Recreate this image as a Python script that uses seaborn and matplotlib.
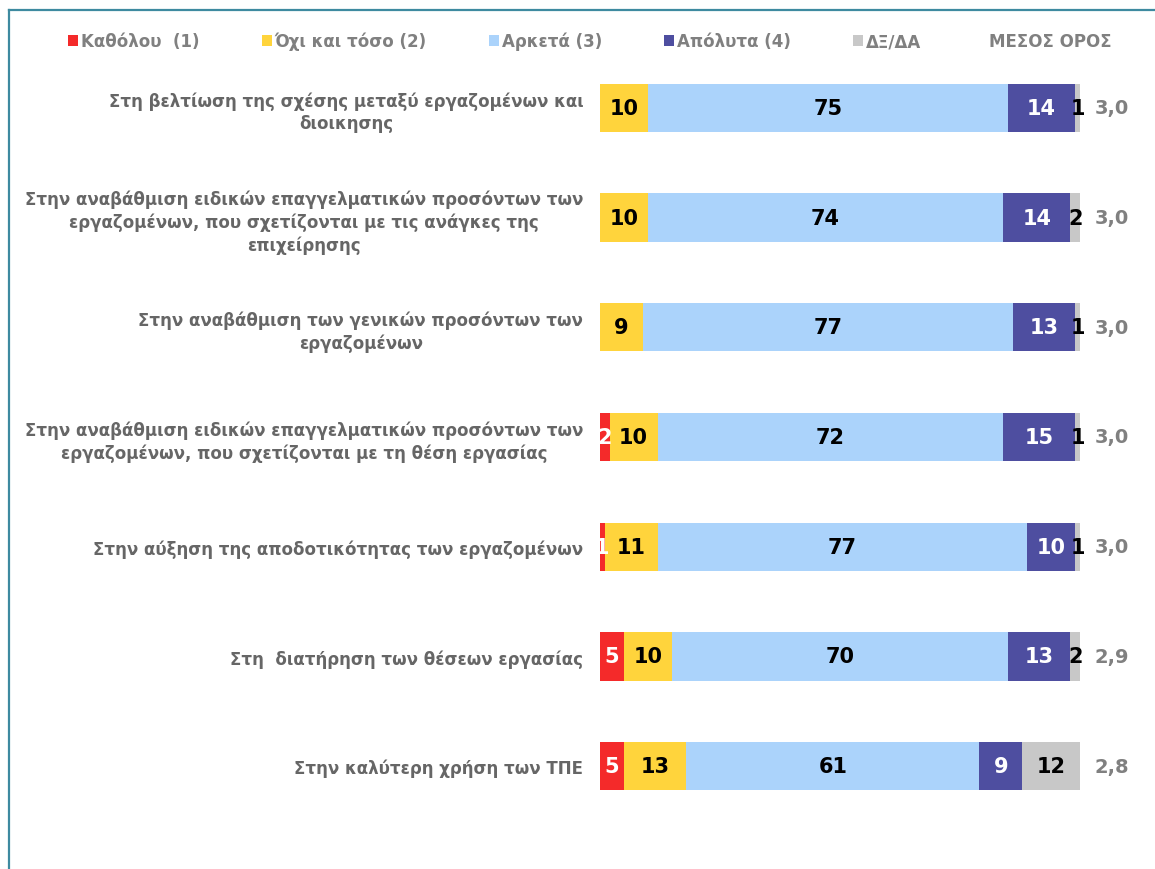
import pandas as pd
import seaborn as sns
import matplotlib.pyplot as plt
from matplotlib.patches import Patch
from matplotlib.lines import Line2D

# Data (percent of respondents)
statements = [
    'Στη βελτίωση της σχέσης μεταξύ εργαζομένων και\nδιοικησης',
    'Στην αναβάθμιση ειδικών επαγγελματικών προσόντων των\nεργαζομένων, που σχετίζονται με τις ανάγκες της\nεπιχείρησης',
    'Στην αναβάθμιση των γενικών προσόντων των\nεργαζομένων',
    'Στην αναβάθμιση ειδικών επαγγελματικών προσόντων των\nεργαζομένων, που σχετίζονται με τη θέση εργασίας',
    'Στην αύξηση της αποδοτικότητας των εργαζομένων',
    'Στη  διατήρηση των θέσεων εργασίας',
    'Στην καλύτερη χρήση των ΤΠΕ',
]
not_at_all = [0, 0, 0, 2, 1, 5, 5]
not_much = [10, 10, 9, 10, 11, 10, 13]
quite = [75, 74, 77, 72, 77, 70, 61]
absolutely = [14, 14, 13, 15, 10, 13, 9]
dk_na = [1, 2, 1, 1, 1, 2, 12]
mean_score = ['3,0', '3,0', '3,0', '3,0', '3,0', '2,9', '2,8']

series_names = ['Καθόλου  (1)', 'Όχι και τόσο (2)', 'Αρκετά (3)', 'Απόλυτα (4)', 'ΔΞ/ΔΑ']
series_values = [not_at_all, not_much, quite, absolutely, dk_na]
colors = ['#F42A2A', '#FFD43C', '#ABD3FB', '#4E4EA0', '#C8C8C8']
text_colors = ['white', 'black', 'black', 'white', 'black']

df = pd.DataFrame({'statement': statements})
for name, vals in zip(series_names, series_values):
    df[name] = vals
cum = df[series_names].cumsum(axis=1)

fig = plt.figure(figsize=(11.55, 8.70), dpi=100)
ax = fig.add_axes([600 / 1155, 48 / 870, 480 / 1155, 768 / 870])

# stacked bars: draw cumulative totals, largest first, so each segment shows through
for name, color in reversed(list(zip(series_names, colors))):
    sns.barplot(x=cum[name], y=df['statement'], orient='h', color=color,
                width=0.44, ax=ax, linewidth=0, saturation=1)

# segment labels
for i in range(len(statements)):
    left = 0
    for name, tc in zip(series_names, text_colors):
        v = df.loc[i, name]
        if v > 0:
            ax.text(left + v / 2, i, str(v), ha='center', va='center',
                    color=tc, fontsize=15, fontweight='bold')
        left += v
    ax.text(106.7, i, mean_score[i], ha='center', va='center',
            color='#808080', fontsize=14, fontweight='bold')

ax.set_xlim(0, 100)
ax.set_ylim(6.5, -0.5)
ax.set_xlabel('')
ax.set_ylabel('')
ax.xaxis.set_visible(False)
ax.tick_params(axis='y', length=0, pad=12)
for lbl in ax.get_yticklabels():
    lbl.set_multialignment('center')
    lbl.set_linespacing(1.3)
    lbl.set_fontsize(12)
    lbl.set_fontweight('bold')
    lbl.set_color('#666666')
for s in ax.spines.values():
    s.set_visible(False)

# legend row
handles = [Patch(facecolor=c, edgecolor='none') for c in colors]
leg = fig.legend(handles, series_names, loc='center left',
                 bbox_to_anchor=(68 / 1155, 1 - 42 / 870), ncol=5, frameon=False,
                 handlelength=0.6, handleheight=0.6, handletextpad=0.2,
                 columnspacing=3.7, borderaxespad=0, borderpad=0,
                 prop={'weight': 'bold', 'size': 12})
for t in leg.get_texts():
    t.set_color('#808080')
fig.text(1050 / 1155, 1 - 42 / 870, 'ΜΕΣΟΣ ΟΡΟΣ', ha='center', va='center',
         color='#808080', fontsize=12, fontweight='bold')

# frame lines
fig.add_artist(Line2D([9 / 1155, 9 / 1155], [0, 1 - 11 / 870], color='#3E8AA0', lw=1.6))
fig.add_artist(Line2D([9 / 1155, 1], [1 - 11 / 870, 1 - 11 / 870], color='#3E8AA0', lw=1.6))

fig.savefig('out.png', dpi=100)
